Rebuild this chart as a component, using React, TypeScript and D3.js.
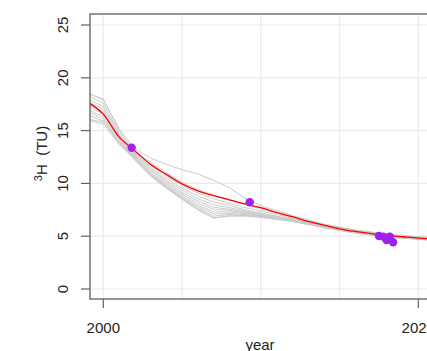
import * as d3 from "d3";
import React from "react";

// model years for the ensemble runs
const runYears = [1999, 2000, 2001, 2002, 2003, 2004, 2005, 2006, 2007, 2008, 2009, 2010, 2012, 2014, 2016, 2018, 2021];

// tritium (TU) of each ensemble run
const runA = [18.6, 17.9, 15.2, 13.3, 12.4, 11.8, 11.3, 10.9, 10.3, 9.6, 8.6, 7.9, 6.95, 6.15, 5.6, 5.2, 4.85];
const runB = [18.5, 18.0, 15.0, 13.0, 12.0, 11.0, 10.1, 9.4, 8.9, 8.45, 8.0, 7.6, 6.8, 6.1, 5.55, 5.15, 4.8];
const runC = [18.3, 17.6, 14.8, 12.9, 11.8, 10.7, 9.8, 9.1, 8.55, 8.1, 7.7, 7.4, 6.7, 6.05, 5.5, 5.1, 4.8];
const runD = [18.0, 17.3, 14.6, 12.8, 11.6, 10.5, 9.55, 8.8, 8.25, 7.9, 7.5, 7.2, 6.6, 6.0, 5.5, 5.1, 4.75];
const runE = [17.8, 17.0, 14.5, 12.7, 11.45, 10.3, 9.35, 8.55, 8.0, 7.7, 7.4, 7.1, 6.6, 6.0, 5.45, 5.05, 4.75];
const runF = [17.5, 16.8, 14.3, 12.6, 11.3, 10.15, 9.15, 8.35, 7.75, 7.55, 7.3, 7.05, 6.55, 5.95, 5.45, 5.05, 4.7];
const runG = [17.3, 16.6, 14.2, 12.5, 11.15, 10.0, 9.0, 8.15, 7.55, 7.45, 7.2, 7.0, 6.5, 5.95, 5.4, 5.0, 4.7];
const runH = [17.0, 16.3, 14.0, 12.5, 11.0, 9.85, 8.85, 7.95, 7.3, 7.3, 7.15, 6.95, 6.5, 5.9, 5.4, 5.0, 4.7];
const runI = [16.8, 16.1, 13.9, 12.4, 10.9, 9.75, 8.7, 7.8, 7.1, 7.15, 7.05, 6.9, 6.45, 5.9, 5.35, 4.95, 4.65];
const runJ = [16.5, 15.9, 13.8, 12.3, 10.8, 9.65, 8.6, 7.65, 6.9, 7.05, 7.0, 6.85, 6.45, 5.85, 5.35, 4.95, 4.65];
const runK = [16.1, 15.8, 14.0, 12.2, 10.7, 9.55, 8.5, 7.5, 6.7, 6.95, 6.95, 6.8, 6.4, 5.85, 5.3, 4.95, 4.6];
const runL = [16.0, 15.6, 13.7, 12.3, 10.75, 9.6, 8.55, 7.55, 6.75, 6.9, 6.9, 6.8, 6.4, 5.8, 5.3, 4.9, 4.6];
const runs = [runA, runB, runC, runD, runE, runF, runG, runH, runI, runJ, runK, runL];

// best fit curve
const fitYears = [1999, 2000, 2001, 2002, 2003, 2004, 2005, 2006, 2007, 2008, 2009, 2010, 2011, 2012, 2013, 2014, 2015, 2016, 2017, 2018, 2019, 2020, 2021];
const fitValues = [17.7, 16.55, 14.4, 13.1, 11.8, 10.85, 9.95, 9.3, 8.85, 8.45, 8.05, 7.7, 7.25, 6.85, 6.4, 6.05, 5.7, 5.45, 5.25, 5.08, 4.95, 4.82, 4.72];

// observed samples
const obsYears = [2001.8, 2009.3, 2017.5, 2017.77, 2017.98, 2018.19, 2018.4];
const obsValues = [13.38, 8.21, 5.02, 4.96, 4.64, 4.96, 4.42];

const yTicks = [0, 5, 10, 15, 20, 25];
const xTicks = [2000, 2020];
const xGrid = [2000, 2005, 2010, 2015, 2020];

const W = 427;
const H = 351;
const plot = {left: 90, right: 430, top: 14, bottom: 299};
const font = "'Liberation Sans', Arial, sans-serif";
const axisColour = "#5f5f5f";

export default function App() {
    const x = d3.scaleLinear().domain([2000, 2020]).range([103.3, 418.3]);
    const y = d3.scaleLinear().domain([0, 25]).range([289, 25]);

    const runLine = d3.line<number>()
        .x((d, i) => x(runYears[i]))
        .y(d => y(d));
    const fitLine = d3.line<number>()
        .x((d, i) => x(fitYears[i]))
        .y(d => y(d))
        .curve(d3.curveMonotoneX);

    return (
        <svg width={W} height={H} style={{position: "absolute", left: 0, top: 0, background: "#fff"}}
             fontFamily={font}>
            <defs>
                <clipPath id="plot-clip">
                    <rect x={plot.left} y={plot.top} width={plot.right - plot.left} height={plot.bottom - plot.top}/>
                </clipPath>
            </defs>

            {/* grid */}
            <g stroke="#ebebeb" strokeWidth={1.2}>
                {yTicks.map(t => (
                    <line key={`gy${t}`} x1={plot.left} x2={plot.right} y1={y(t)} y2={y(t)}/>
                ))}
                {xGrid.map(t => (
                    <line key={`gx${t}`} x1={x(t)} x2={x(t)} y1={plot.top} y2={plot.bottom}/>
                ))}
            </g>

            <g clipPath="url(#plot-clip)">
                {runs.map((r, i) => (
                    <path key={i} d={runLine(r) || ""} fill="none" stroke="#cbcbcb" strokeWidth={1}/>
                ))}
                <path d={fitLine(fitValues) || ""} fill="none" stroke="#ff0000" strokeWidth={1.3}/>
                {obsValues.map((v, i) => (
                    <circle key={i} cx={x(obsYears[i])} cy={y(v)} r={4.2} fill="#a020f0"/>
                ))}
            </g>

            {/* box */}
            <rect x={plot.left} y={plot.top} width={plot.right - plot.left} height={plot.bottom - plot.top}
                  fill="none" stroke={axisColour} strokeWidth={1.3}/>

            {/* y axis */}
            <g stroke={axisColour} strokeWidth={1.2}>
                {yTicks.map(t => (
                    <line key={t} x1={plot.left - 9} x2={plot.left} y1={y(t)} y2={y(t)}/>
                ))}
            </g>
            {yTicks.map(t => (
                <text key={t} transform={`translate(68,${y(t)}) rotate(-90)`} textAnchor="middle"
                      fontSize={15} fill="#222">{t}</text>
            ))}

            {/* x axis */}
            <g stroke={axisColour} strokeWidth={1.2}>
                {xTicks.map(t => (
                    <line key={t} x1={x(t)} x2={x(t)} y1={plot.bottom} y2={plot.bottom + 9}/>
                ))}
            </g>
            {xTicks.map(t => (
                <text key={t} x={x(t)} y={333} textAnchor="middle" fontSize={15} fill="#222">{t}</text>
            ))}

            <text x={(plot.left + plot.right) / 2} y={350} textAnchor="middle" fontSize={15} fill="#222">year</text>
            <text transform={`translate(47,${(plot.top + plot.bottom) / 2 - 3}) rotate(-90)`} textAnchor="middle"
                  fontSize={15} fill="#222">
                <tspan fontSize={11} dy={-5}>3</tspan>
                <tspan dy={5} xmlSpace="preserve">H  (TU)</tspan>
            </text>
        </svg>
    );
}
